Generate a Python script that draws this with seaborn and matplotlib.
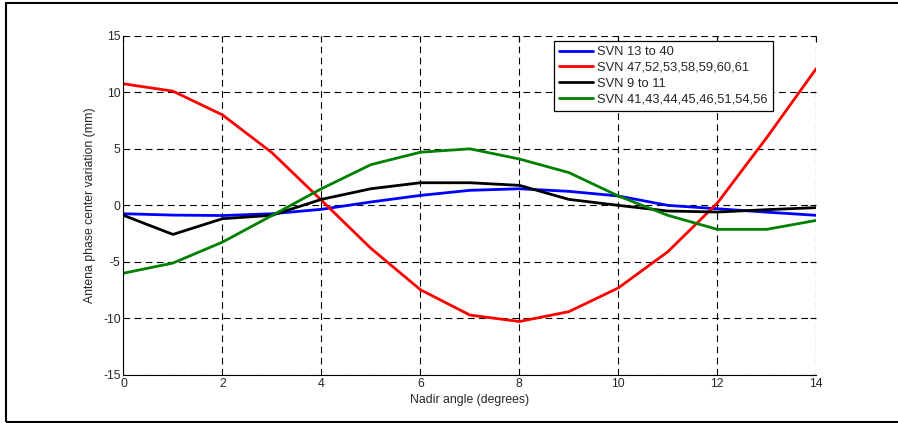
import matplotlib
matplotlib.use("Agg")
import matplotlib.pyplot as plt
import numpy as np
import pandas as pd
import seaborn as sns
from matplotlib.patches import Rectangle

# Nadir angle samples (degrees)
nadir = [0, 1, 2, 3, 4, 5, 6, 7, 8, 9, 10, 11, 12, 13, 14]

# Phase center variation per satellite group (mm)
svn_13_40 = [-0.74, -0.86, -0.9, -0.74, -0.35, 0.3, 0.88, 1.33, 1.47, 1.24, 0.83, 0.0, -0.3, -0.6, -0.88]
svn_47_61 = [10.75, 10.1, 8.0, 4.66, 0.45, -3.8, -7.46, -9.7, -10.27, -9.4, -7.3, -4.1, 0.2, 6.0, 12.1]
svn_9_11 = [-0.88, -2.57, -1.18, -0.88, 0.53, 1.47, 2.0, 2.0, 1.77, 0.53, 0.0, -0.5, -0.59, -0.38, -0.2]
svn_41_56 = [-6.0, -5.1, -3.25, -0.9, 1.47, 3.6, 4.7, 5.0, 4.1, 2.9, 0.83, -0.88, -2.12, -2.12, -1.33]

labels = ["SVN 13 to 40",
          "SVN 47,52,53,58,59,60,61",
          "SVN 9 to 11",
          "SVN 41,43,44,45,46,51,54,56"]
colors = ["#0000ff", "#ff0000", "#000000", "#008000"]

x_ticks = [0, 2, 4, 6, 8, 10, 12, 14]
y_ticks = [-15, -10, -5, 0, 5, 10, 15]

series = [svn_13_40, svn_47_61, svn_9_11, svn_41_56]
df = pd.concat(
    [pd.DataFrame({"angle": nadir, "pcv": vals, "group": lab})
     for lab, vals in zip(labels, series)],
    ignore_index=True,
)

sns.set_theme(style="white")
plt.rcParams["font.family"] = ["Liberation Sans", "DejaVu Sans"]

fig = plt.figure(figsize=(8.98, 4.23), dpi=100)
ax = fig.add_axes([0.1375, 0.1135, 0.7715, 0.802])

sns.lineplot(data=df, x="angle", y="pcv", hue="group", hue_order=labels,
             palette=colors, linewidth=2.0, ax=ax, legend=True)

ax.set_xlim(0, 14)
ax.set_ylim(-15, 15)
ax.set_xticks(x_ticks)
ax.set_yticks(y_ticks)
ax.set_xticklabels([str(t) for t in x_ticks])
ax.set_yticklabels([str(t) for t in y_ticks])
ax.tick_params(axis="both", direction="in", length=4, width=0.8, color="black",
               labelsize=8.8, pad=2, top=True, right=True)

ax.grid(True, color="black", linestyle=(0, (6, 4)), linewidth=0.8)
ax.set_axisbelow(True)
for side in ["top", "right"]:
    ax.spines[side].set_visible(False)
for side in ["left", "bottom"]:
    ax.spines[side].set_color("black")
    ax.spines[side].set_linewidth(0.8)

ax.set_xlabel("Nadir angle (degrees)", fontsize=8.8, labelpad=3)
ax.set_ylabel("Antena phase center variation (mm)", fontsize=8.8, labelpad=5)

leg = ax.legend(loc="upper right", bbox_to_anchor=(0.9375, 0.985),
                fontsize=9.3, frameon=True, fancybox=False, framealpha=1,
                edgecolor="black", handlelength=2.6, handletextpad=0.35,
                labelspacing=0.3, borderpad=0.4, borderaxespad=0)
leg.get_frame().set_linewidth(0.9)
for line in leg.get_lines():
    line.set_linewidth(2.0)

# Outer frame around the whole figure
fig.patches.append(Rectangle((6 / 898, 1.5 / 423), 1.2, 1 - 4.5 / 423,
                             transform=fig.transFigure, fill=False,
                             edgecolor="black", linewidth=1.5))

fig.savefig("out.png", dpi=100)
